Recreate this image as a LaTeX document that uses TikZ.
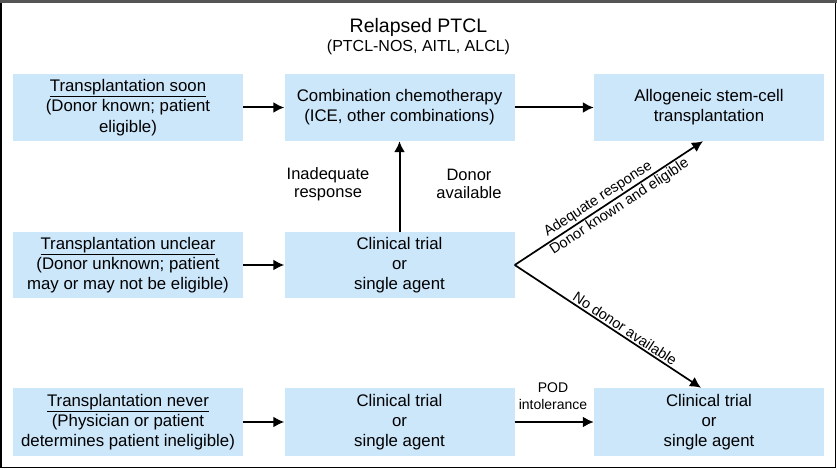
\documentclass[tikz,border=0pt]{standalone}
\usepackage{fontspec}
\setmainfont{Liberation Sans}
\usetikzlibrary{arrows.meta}
\definecolor{boxblue}{RGB}{204,230,250}
\definecolor{framegray}{RGB}{85,85,85}
\tikzset{
  box/.style={fill=boxblue, draw=none, inner sep=0pt, align=center,
    minimum width=230pt, minimum height=67pt,
    font=\fontsize{16.8}{20.3}\selectfont},
  arr/.style={line width=2pt, -{Latex[length=11pt,width=11pt]}},
  darr/.style={line width=1.7pt, -{Latex[length=11pt,width=11pt]}},
  lbl/.style={align=center, inner sep=0pt, font=\fontsize{16.5}{18.5}\selectfont},
  slbl/.style={inner sep=1.5pt, sloped, font=\fontsize{14.5}{17}\selectfont},
}
\begin{document}
\begin{tikzpicture}[x=1pt,y=-1pt]
\useasboundingbox (0,0) rectangle (837,470);
% frame
\draw[line width=1.5pt] (0.75,0.75) rectangle (835.5,467.5);
\draw[framegray, line width=3pt] (0,1.5) -- (837,1.5);

% title
\node[inner sep=0pt, font=\fontsize{19.5}{22}\selectfont] (title) at (418.5,27) {Relapsed PTCL};
\node[inner sep=0pt, font=\fontsize{16}{18}\selectfont] (subtitle) at (418.5,47) {(PTCL-NOS, AITL, ALCL)};

% row 1
\node[box] (a1) at (128,107.5) {\underline{Transplantation soon}\\(Donor known; patient\\eligible)};
\node[box] (a2) at (399.5,107.5) {Combination chemotherapy\\(ICE, other combinations)};
\node[box] (a3) at (709,107.5) {Allogeneic stem-cell\\transplantation};

% row 2
\node[box, minimum height=66pt] (b1) at (128,265) {\underline{Transplantation unclear}\\(Donor unknown; patient\\may or may not be eligible)};
\node[box, minimum height=66pt] (b2) at (399.5,265) {Clinical trial\\or\\single agent};

% row 3
\node[box, minimum height=68pt] (c1) at (128,422) {\underline{Transplantation never}\\(Physician or patient\\determines patient ineligible)};
\node[box, minimum height=68pt] (c2) at (399.5,422) {Clinical trial\\or\\single agent};
\node[box, minimum height=68pt] (c3) at (709,422) {Clinical trial\\or\\single agent};

% arrows
\draw[arr] (a1.east) -- (a2.west);
\draw[arr] (a2.east) -- (a3.west);
\draw[arr] (b1.east) -- (b2.west);
\draw[arr] (c1.east) -- (c2.west);
\draw[arr] (c2.east) -- (c3.west);
\draw[arr] (b2.north) -- (a2.south);

\node[lbl] (inad) at (328,184) {Inadequate\\response};
\node[lbl] (donav) at (469,184) {Donor\\available};

\draw[darr] (b2.east) -- node[slbl, pos=0.47, above] {Adequate response}
                         node[slbl, pos=0.53, below] {Donor known and eligible}
                         ([xshift=-6pt]a3.south);
\draw[darr] (b2.east) -- node[slbl, pos=0.57, above] {No donor available}
                         ([xshift=-8pt]c3.north);

\node[align=center, inner sep=0pt, font=\fontsize{14}{17}\selectfont] (pod) at (553,396.5) {POD\\intolerance};
\end{tikzpicture}
\end{document}
